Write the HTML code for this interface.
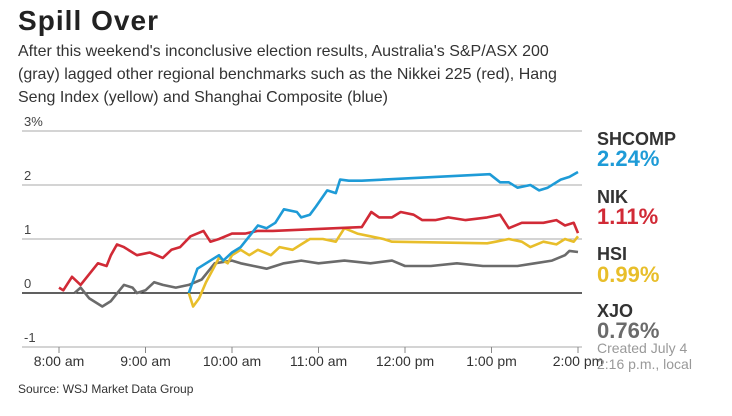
<!DOCTYPE html>
<html><head><meta charset="utf-8"><style>
body{margin:0;background:#fff;width:732px;height:416px;overflow:hidden;font-family:"Liberation Sans",sans-serif}
</style></head><body>
<svg width="732" height="416" id="svg" style="position:absolute;left:0;top:0">
<text x="18" y="30" font-size="28" font-weight="bold" fill="#222" textLength="140">Spill Over</text>
<g font-size="16" fill="#333">
<text x="18" y="56">After this weekend's inconclusive election results, Australia's S&amp;P/ASX 200</text>
<text x="18" y="79">(gray) lagged other regional benchmarks such as the Nikkei 225 (red), Hang</text>
<text x="18" y="102">Seng Index (yellow) and Shanghai Composite (blue)</text>
</g>
<g id="grid"></g><g id="series"></g>
<g font-weight="bold">
<text x="597" y="145" font-size="18" fill="#333">SHCOMP</text>
<text x="597" y="166" font-size="22" fill="#1e9bd7">2.24%</text>
<text x="597" y="203" font-size="18" fill="#333">NIK</text>
<text x="597" y="224" font-size="22" fill="#d12a36">1.11%</text>
<text x="597" y="260" font-size="18" fill="#333">HSI</text>
<text x="597" y="282" font-size="22" fill="#e8be2a">0.99%</text>
<text x="597" y="317" font-size="18" fill="#333">XJO</text>
<text x="597" y="338" font-size="22" fill="#6b6b6b">0.76%</text>
</g>
<g font-size="14" fill="#999">
<text x="597" y="353">Created July 4</text><text x="597" y="369">2:16 p.m., local</text>
</g>
<text x="18" y="393" font-size="12" fill="#333">Source: WSJ Market Data Group</text>
</svg>
<script>
const yTicks=[3,2,1,0,-1];
const yTickLabels=["3%","2","1","0","-1"];
const xTicks=[0,1,2,3,4,5,6];
const xTickLabels=["8:00 am","9:00 am","10:00 am","11:00 am","12:00 pm","1:00 pm","2:00 pm"];
const nikT=[0,0.05,0.15,0.25,0.35,0.45,0.55,0.6,0.67,0.75,0.9,1.05,1.2,1.3,1.4,1.52,1.67,1.75,1.85,2.0,2.15,2.3,2.47,3.5,3.61,3.7,3.85,3.95,4.1,4.2,4.35,4.5,4.7,4.95,5.1,5.2,5.35,5.6,5.75,5.85,5.95,6.0];
const nikV=[0.1,0.05,0.3,0.15,0.35,0.55,0.5,0.7,0.9,0.85,0.7,0.75,0.65,0.8,0.85,1.05,1.15,0.95,1.0,1.1,1.1,1.15,1.15,1.22,1.5,1.4,1.4,1.5,1.45,1.35,1.35,1.4,1.35,1.4,1.45,1.2,1.3,1.3,1.35,1.25,1.3,1.11];
const shT=[1.5,1.6,1.7,1.85,1.9,2.0,2.1,2.2,2.3,2.4,2.5,2.6,2.75,2.8,2.9,2.97,3.1,3.2,3.25,3.35,3.5,4.98,5.1,5.2,5.3,5.45,5.55,5.65,5.8,5.9,6.0];
const shV=[0.0,0.45,0.55,0.7,0.6,0.75,0.85,1.05,1.25,1.2,1.3,1.55,1.5,1.4,1.45,1.6,1.9,1.85,2.1,2.08,2.08,2.2,2.05,2.05,1.95,2.0,1.9,1.95,2.1,2.15,2.24];
const hsT=[1.5,1.55,1.62,1.7,1.8,1.85,1.95,2.0,2.1,2.2,2.3,2.45,2.55,2.7,2.8,2.9,3.05,3.2,3.3,3.45,3.6,3.75,3.85,4.95,5.05,5.2,5.35,5.45,5.6,5.75,5.85,5.95,6.0];
const hsV=[0.0,-0.25,-0.1,0.2,0.5,0.65,0.55,0.7,0.8,0.7,0.8,0.7,0.85,0.8,0.9,1.0,1.0,0.95,1.2,1.1,1.05,1.0,0.95,0.92,0.95,1.0,0.95,0.85,0.95,0.9,1.0,0.95,1.05];
const xjT=[0.18,0.25,0.35,0.5,0.6,0.7,0.75,0.85,0.9,1.0,1.1,1.2,1.35,1.5,1.65,1.75,1.8,2.0,2.1,2.25,2.4,2.6,2.8,3.0,3.3,3.6,3.85,4.0,4.3,4.6,4.9,5.1,5.3,5.5,5.7,5.85,5.9,6.0];
const xjV=[0.0,0.1,-0.1,-0.25,-0.15,0.05,0.15,0.1,0.0,0.05,0.2,0.15,0.1,0.15,0.25,0.45,0.55,0.6,0.55,0.5,0.45,0.55,0.6,0.55,0.6,0.55,0.6,0.5,0.5,0.55,0.5,0.5,0.5,0.55,0.6,0.7,0.78,0.76];
const NS="http://www.w3.org/2000/svg";
const xS=h=>59+h*86.5, yS=v=>293-v*54;
const grid=document.getElementById('grid'), ser=document.getElementById('series');
function mk(tag,attrs,parent){const e=document.createElementNS(NS,tag);for(const k in attrs)e.setAttribute(k,attrs[k]);parent.appendChild(e);return e;}
yTicks.forEach((v,i)=>{
 const l=mk('line',{x1:22,x2:582,y1:yS(v),y2:yS(v),stroke:v===0?'#000':'#aaa','stroke-width':v===0?1.3:1},grid);
 
 
 const t=mk('text',{x:24,y:yS(v)-5,'font-size':13,fill:'#444'},grid);t.textContent=yTickLabels[i];
 
 
});
xTicks.forEach((h,i)=>{
 const l=mk('line',{x1:xS(h),x2:xS(h),y1:yS(-1),y2:yS(-1)+6,stroke:'#888'},grid);
 
 
 const t=mk('text',{x:xS(h),y:366,'font-size':14,fill:'#333','text-anchor':'middle'},grid);t.textContent=xTickLabels[i];
 
 
});
function line(T,V,color,name){
 const d=T.map((t,i)=>(i?'L':'M')+xS(t).toFixed(1)+' '+yS(V[i]).toFixed(1)).join(' ');
 const p=mk('path',{d:d,fill:'none',stroke:color,'stroke-width':2.6,'stroke-linejoin':'round'},ser);
 
 
}
line(xjT,xjV,'#6b6b6b','xjo-line');
line(hsT,hsV,'#e8be2a','hsi-line');
line(nikT,nikV,'#d12a36','nik-line');
line(shT,shV,'#1e9bd7','shcomp-line');
</script>
</body></html>
